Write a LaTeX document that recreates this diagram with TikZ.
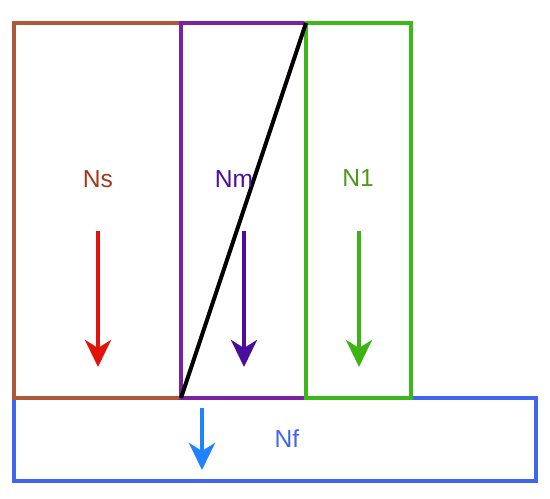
\documentclass[tikz,border=0pt]{standalone}
\usepackage{fontspec}
\setmainfont{Liberation Sans}
\usetikzlibrary{arrows.meta}

\definecolor{nsbox}{HTML}{B0583A}
\definecolor{nstext}{HTML}{A03A1A}
\definecolor{nsarrow}{HTML}{E0140A}
\definecolor{nmbox}{HTML}{7A22A0}
\definecolor{nmtext}{HTML}{4A0E9E}
\definecolor{nbox}{HTML}{3DB81A}
\definecolor{ntext}{HTML}{4C9A1C}
\definecolor{narrow}{HTML}{3CB414}
\definecolor{nfbox}{HTML}{4066EE}
\definecolor{nfarrow}{HTML}{1F82FF}

\begin{document}
\begin{tikzpicture}[font=\fontsize{14}{16}\selectfont, line width=2.3pt,
    flow/.style={-{Stealth[length=0.54cm, width=0.52cm, inset=0.16cm]}}]
    \useasboundingbox (0,0) rectangle (11,9.96);

    \begin{scope}
        \draw[color=nfbox] (0.28,0.34) rectangle (10.72,2);
        \draw[color=nsbox] (0.28,2) rectangle (3.62,9.5);
        \draw[color=nmbox] (3.62,2) rectangle (6.12,9.5);
        \draw[color=nbox] (6.12,2) rectangle (8.22,9.5);

        \coordinate (nm sw) at (3.62,2);
        \coordinate (nm ne) at (6.12,9.5);
        \draw[black] (nm sw) -- (nm ne);
    \end{scope}

    \node[text=nstext] (ns) at (1.96,6.38) {Ns};
    \node[text=nmtext] (nm) at (4.68,6.38) {Nm};
    \node[text=ntext] (n1) at (7.16,6.40) {N1};
    \node[text=nfbox] (nf) at (5.74,1.18) {Nf};

    \coordinate (ns top) at (1.96,5.34);
    \coordinate (ns tip) at (1.96,2.62);
    \coordinate (nm top) at (4.88,5.34);
    \coordinate (nm tip) at (4.88,2.62);
    \coordinate (n1 top) at (7.18,5.34);
    \coordinate (n1 tip) at (7.18,2.62);
    \coordinate (nf top) at (4.04,1.80);
    \coordinate (nf tip) at (4.04,0.56);

    \draw[flow, color=nsarrow] (ns top) -- (ns tip);
    \draw[flow, color=nmtext] (nm top) -- (nm tip);
    \draw[flow, color=narrow] (n1 top) -- (n1 tip);
    \draw[flow, color=nfarrow] (nf top) -- (nf tip);
\end{tikzpicture}
\end{document}
